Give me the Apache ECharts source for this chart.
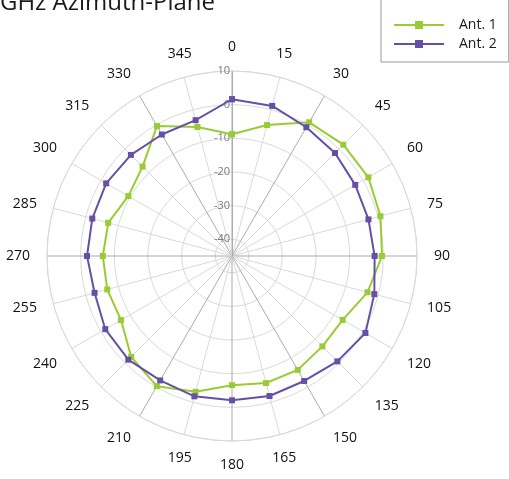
<!DOCTYPE html>
<html>
<head>
<meta charset="utf-8">
<script src="https://cdn.jsdelivr.net/npm/echarts@6/dist/echarts.min.js"></script>
<style>
html,body{margin:0;padding:0;background:#fff;}
#chart{width:509px;height:479px;}
</style>
</head>
<body>
<div id="chart"></div>
<script>
var angles = [0,15,30,45,60,75,90,105,120,135,150,165,180,195,210,225,240,255,270,285,300,315,330,345];
var ant1 = [-8.8,-4.7,0.9,1.8,1.8,0.7,-0.4,-3.3,-7.0,-7.0,-5.9,-5.9,-6.6,-3.2,-0.3,-2.6,-6.9,-6.6,-6.6,-6.9,-9.4,-7.4,-0.4,-5.3];
var ant2 = [1.6,1.2,-0.8,-1.7,-2.7,-3.0,-2.6,-1.2,0.8,-0.7,-2.1,-1.9,-2.1,-1.8,-2.3,-1.4,-1.5,-2.7,-1.9,-2.0,-1.8,-2.5,-3.3,-3.2];
var seriesNames = ['Ant. 1','Ant. 2'];
var seriesColors = ['#99CC33','#6650A5'];
var radialMin = -45, radialMax = 10;

function closed(vals){
  var d = angles.map(function(a,i){ return [vals[i], a]; });
  d.push([vals[0], 360]);
  return d;
}
var darkSpokes = {0:1,30:1,90:1,150:1,180:1,210:1,270:1,330:1,360:1};
var spokeColors = [];
for (var a = 0; a <= 360; a += 15) spokeColors.push(darkSpokes[a] ? '#ababab' : '#d9d9d9');

var chart = echarts.init(document.getElementById('chart'), null, {renderer:'canvas'});
chart.setOption({
  animation:false,
  title:{
    text:'GHz Azimuth-Plane',
    right:289, top:-14,
    textStyle:{fontFamily:'Open Sans', fontSize:24, fontWeight:'normal', color:'#1a1a1a'}
  },
  legend:{
    data:seriesNames,
    orient:'vertical',
    left:381, top:-2,
    padding:[20,12,11,12],
    itemWidth:50, itemHeight:10, itemGap:5,
    borderColor:'#9a9a9a', borderWidth:1,
    textStyle:{fontFamily:'Open Sans', fontSize:14, color:'#1a1a1a', padding:[0,0,0,10]}
  },
  polar:{center:[232,256], radius:185},
  angleAxis:{
    type:'value', min:0, max:360, interval:15,
    startAngle:90, clockwise:true,
    axisLine:{lineStyle:{color:'#d9d9d9', width:1}},
    axisTick:{show:false},
    axisLabel:{
      margin:17,
      fontFamily:'Open Sans', fontSize:14, color:'#111111',
      formatter:function(v){ return v === 360 ? '' : String(v); }
    },
    splitLine:{show:true, lineStyle:{color:spokeColors, width:1}}
  },
  radiusAxis:{
    type:'value', min:radialMin, max:radialMax,
    axisLine:{show:true, lineStyle:{color:'#ababab', width:1}},
    axisTick:{show:false},
    axisLabel:{
      margin:2,
      fontFamily:'Open Sans', fontSize:11, color:'#7a7a7a',
      formatter:function(v){ return v === radialMin ? '' : String(v); }
    },
    splitLine:{show:true, lineStyle:{color:'#d9d9d9', width:1}}
  },
  series:[
    {name:seriesNames[0], type:'line', coordinateSystem:'polar', data:closed(ant1),
     symbol:'rect', symbolSize:6, showAllSymbol:true,
     lineStyle:{width:2, color:seriesColors[0]}, itemStyle:{color:seriesColors[0]}},
    {name:seriesNames[1], type:'line', coordinateSystem:'polar', data:closed(ant2),
     symbol:'rect', symbolSize:6, showAllSymbol:true,
     lineStyle:{width:2, color:seriesColors[1]}, itemStyle:{color:seriesColors[1]}}
  ]
});
</script>
</body>
</html>
